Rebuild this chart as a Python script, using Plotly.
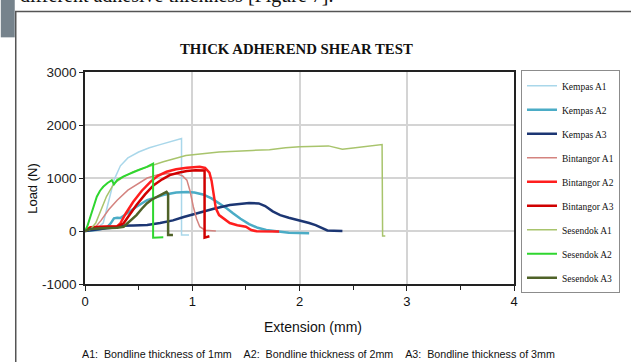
import plotly.graph_objects as go

# ---- data ----
names = ["Kempas A1", "Kempas A2", "Kempas A3",
         "Bintangor A1", "Bintangor A2", "Bintangor A3",
         "Sesendok A1", "Sesendok A2", "Sesendok A3"]

kempas_a1_x = [0, 0.05, 0.1, 0.17, 0.22, 0.27, 0.33, 0.4, 0.5, 0.6, 0.7, 0.8, 0.9, 0.9, 0.97]
kempas_a1_y = [0, 10, 30, 150, 550, 960, 1230, 1380, 1490, 1570, 1630, 1690, 1745, -75, -75]

kempas_a2_x = [0, 0.1, 0.2, 0.24, 0.27, 0.3, 0.33, 0.39, 0.48, 0.58, 0.67, 0.75, 0.85, 0.95, 1.02,
               1.1, 1.18, 1.25, 1.32, 1.38, 1.45, 1.53, 1.61, 1.69, 1.8, 1.9, 2.0, 2.09]
kempas_a2_y = [0, 20, 60, 145, 239, 250, 245, 333, 458, 584, 646, 690, 725, 735, 725,
               690, 615, 530, 430, 333, 230, 130, 60, 19, -10, -32, -40, -44]

kempas_a3_x = [0, 0.1, 0.2, 0.3, 0.33, 0.45, 0.58, 0.7, 0.82, 0.92, 1.04, 1.2, 1.35, 1.45, 1.53,
               1.62, 1.68, 1.75, 1.82, 1.9, 2.0, 2.09, 2.15, 2.21, 2.26, 2.32, 2.40]
kempas_a3_y = [0, 30, 50, 70, 100, 105, 115, 150, 200, 265, 333, 420, 490, 515, 530,
               520, 470, 370, 300, 250, 200, 150, 110, 60, 10, 5, 0]

bint_a1_x = [0, 0.05, 0.1, 0.15, 0.22, 0.3, 0.4, 0.48, 0.58, 0.68, 0.78, 0.86, 0.91, 0.95, 0.98,
             1.01, 1.04, 1.07, 1.12, 1.22]
bint_a1_y = [0, 30, 80, 200, 400, 580, 770, 870, 1000, 1060, 1085, 1075, 1040, 960, 750,
             458, 230, 81, 15, 0]

bint_a2_x = [0, 0.05, 0.15, 0.3, 0.33, 0.38, 0.45, 0.53, 0.61, 0.68, 0.76, 0.85, 0.95, 1.01, 1.07,
             1.12, 1.16, 1.18, 1.19, 1.22, 1.25, 1.29, 1.35, 1.42, 1.5, 1.55, 1.6, 1.81]
bint_a2_y = [0, 70, 80, 90, 145, 330, 552, 760, 928, 1040, 1117, 1165, 1192, 1200, 1211,
             1190, 1100, 950, 804, 427, 300, 239, 150, 110, 81, 19, -5, -10]

bint_a3_x = [0, 0.05, 0.15, 0.3, 0.36, 0.42, 0.48, 0.56, 0.64, 0.72, 0.79, 0.87, 0.95, 1.03, 1.1,
             1.115, 1.115, 1.16]
bint_a3_y = [0, 60, 75, 85, 145, 320, 490, 690, 866, 975, 1055, 1100, 1130, 1145, 1149,
             1140, -125, -100]

ses_a1_x = [0, 0.05, 0.1, 0.15, 0.2, 0.27, 0.36, 0.45, 0.58, 0.73, 0.94, 1.25, 1.56, 1.72, 1.87,
            2.0, 2.27, 2.33, 2.40, 2.5, 2.58, 2.68, 2.77, 2.775, 2.80]
ses_a1_y = [0, 30, 150, 400, 650, 898, 1023, 1120, 1211, 1305, 1425, 1490, 1520, 1535, 1570,
            1588, 1606, 1575, 1544, 1565, 1588, 1610, 1632, -94, -94]

ses_a2_x = [0, 0.02, 0.05, 0.08, 0.11, 0.14, 0.17, 0.21, 0.25, 0.27, 0.30, 0.36, 0.42, 0.5, 0.576,
            0.62, 0.635, 0.635, 0.73]
ses_a2_y = [0, 80, 270, 470, 646, 760, 835, 905, 960, 880, 960, 1030, 1086, 1150, 1211,
            1255, 1270, -125, -120]

ses_a3_x = [0, 0.05, 0.15, 0.25, 0.3, 0.36, 0.42, 0.48, 0.53, 0.576, 0.62, 0.67, 0.71, 0.745, 0.76,
            0.775, 0.775, 0.82]
ses_a3_y = [0, 40, 50, 55, 60, 81, 190, 300, 420, 521, 590, 646, 690, 720, 740,
            700, -75, -75]

xs = [kempas_a1_x, kempas_a2_x, kempas_a3_x, bint_a1_x, bint_a2_x, bint_a3_x, ses_a1_x, ses_a2_x, ses_a3_x]
ys = [kempas_a1_y, kempas_a2_y, kempas_a3_y, bint_a1_y, bint_a2_y, bint_a3_y, ses_a1_y, ses_a2_y, ses_a3_y]

colors = ["#a9d7ea", "#4bacc6", "#1c3673", "#d4837f", "#ff1e1e", "#d00000", "#a8c46c", "#2fd62f", "#4f6228"]
widths = [1.5, 2.5, 2.5, 1.5, 2.5, 2.5, 1.5, 2, 2.5]

x_ticks = [0, 1, 2, 3, 4]
y_ticks = [-1000, 0, 1000, 2000, 3000]
y_labels = ["-1000", "0", "1000", "2000", "3000"]

fig = go.Figure()
for i, n in enumerate(names):
    fig.add_trace(go.Scatter(x=xs[i], y=ys[i], mode="lines", name=n,
                             legendgroup=n,
                             line=dict(color=colors[i], width=widths[i])))

W, H = 631, 362
L, R, T, B = 84.5, 515, 71.7, 284
pw, ph = R - L, B - T


def px(x):
    return (x - L) / pw


def py(y):
    return (B - y) / ph


fig.update_layout(
    width=W, height=H,
    margin=dict(l=L, r=W - R, t=T, b=H - B, pad=0),
    paper_bgcolor="white", plot_bgcolor="white",
    showlegend=True,
    legend=dict(x=px(521), y=py(70), xanchor="left", yanchor="top",
                bordercolor="#8c8c8c", borderwidth=1, bgcolor="white",
                font=dict(family="Liberation Serif", size=9.5, color="#111"),
                tracegroupgap=5, traceorder="grouped", itemwidth=30, maxheight=320),
    xaxis=dict(range=[0, 4], tickvals=x_ticks, showgrid=True, gridcolor="#d4d4d4", gridwidth=1.5,
               zeroline=False, showline=True, linecolor="#222", linewidth=1.5, mirror=True,
               ticks="outside", ticklen=5, tickcolor="#222",
               minor=dict(dtick=0.5, ticks="outside", ticklen=4, tickcolor="#222", showgrid=False),
               tickfont=dict(family="Liberation Sans Narrow, Arial, sans-serif", size=13, color="#111")),
    yaxis=dict(range=[-1000, 3000], tickvals=y_ticks, ticktext=y_labels,
               showgrid=True, gridcolor="#d4d4d4", gridwidth=1.5,
               zeroline=False, showline=True, linecolor="#222", linewidth=1.5, mirror=True,
               ticks="outside", ticklen=4, tickcolor="#222",
               tickfont=dict(family="Liberation Sans, Arial, sans-serif", size=13.5, color="#222")),
    font=dict(family="Liberation Sans, Arial, sans-serif"),
)

# outer frame of the embedded chart and page decorations
fig.add_shape(type="rect", xref="paper", yref="paper",
              x0=px(15), x1=px(640), y0=py(370), y1=py(11),
              line=dict(color="#555", width=1.5), fillcolor="rgba(0,0,0,0)", layer="below")
fig.add_shape(type="rect", xref="paper", yref="paper",
              x0=px(0), x1=px(14), y0=py(37), y1=py(-2),
              line=dict(width=0), fillcolor="#76838c", layer="above")

annots = [
    dict(text="<b>THICK ADHEREND SHEAR TEST</b>", x=px(297), y=py(49),
         font=dict(family="Liberation Serif", size=14.8, color="#111")),
    dict(text="Load (N)", x=px(31), y=py(188), textangle=-90,
         font=dict(family="Liberation Sans", size=13, color="#111")),
    dict(text="Extension (mm)", x=px(313), y=py(327),
         font=dict(family="Liberation Sans Narrow, Liberation Sans", size=14, color="#111")),
    dict(text="A1:  Bondline thickness of 1mm&nbsp;&nbsp;&nbsp;&nbsp;A2:  Bondline thickness of 2mm&nbsp;&nbsp;&nbsp;&nbsp;A3:  Bondline thickness of 3mm",
         x=px(319), y=py(354),
         font=dict(family="Liberation Sans Narrow, Liberation Sans", size=10.7, color="#111")),
    dict(text="different adhesive thickness [Figure 7].", x=px(17), y=py(9), xanchor="left", yanchor="bottom",
         font=dict(family="Liberation Serif", size=20, color="#111")),
]
for a in annots:
    base = dict(xref="paper", yref="paper", showarrow=False, xanchor="center", yanchor="middle")
    base.update(a)
    fig.add_annotation(**base)

fig.write_html("out.html")
